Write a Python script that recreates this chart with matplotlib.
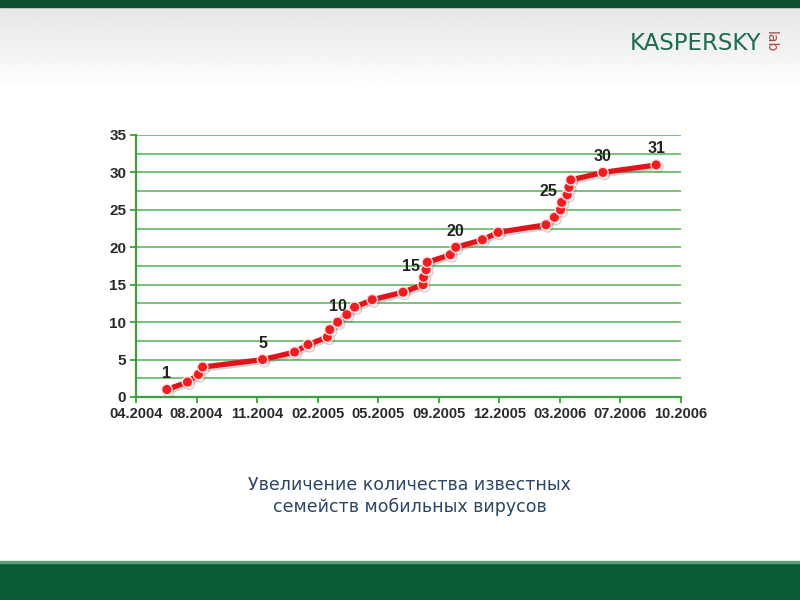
import numpy as np
import matplotlib
matplotlib.use('Agg')
import matplotlib.pyplot as plt
import matplotlib.patheffects as pe
from matplotlib.patches import Rectangle

# x positions are in "tick units" (the x-axis ticks are evenly spaced labels)
tick_labels = ['04.2004', '08.2004', '11.2004', '02.2005', '05.2005',
               '09.2005', '12.2005', '03.2006', '07.2006', '10.2006']
x_pos = [0.51, 0.85, 1.03, 1.10, 2.09, 2.62, 2.84, 3.16, 3.20, 3.33,
         3.48, 3.61, 3.90, 4.41, 4.74, 4.75, 4.79, 4.81, 5.19, 5.28,
         5.72, 5.98, 6.77, 6.91, 7.01, 7.03, 7.12, 7.15, 7.18, 7.71, 8.59]
families = list(range(1, 32))
labelled = [1, 5, 10, 15, 20, 25, 30, 31]
caption = 'Увеличение количества известных\nсемейств мобильных вирусов'

W, H = 800, 600
fig = plt.figure(figsize=(8, 6), dpi=100)
fig.patch.set_facecolor('white')

# header: dark green strip + light gray gradient
bg = fig.add_axes([0, 0, 1, 1], zorder=-5)
bg.axis('off')
grad = np.linspace(0.90, 1.0, 100).reshape(-1, 1)
bg.imshow(grad, cmap='gray', vmin=0, vmax=1, extent=[0, W, 90, 7], aspect='auto')
bg.add_patch(Rectangle((0, 0), W, 7, color='#0e4f31'))
bg.add_patch(Rectangle((0, 562), W, 38, color='#0a5c37'))
bg.add_patch(Rectangle((0, 561), W, 2, color='#5f9c7e'))
bg.set_xlim(0, W)
bg.set_ylim(H, 0)

# logo
fig.text(0.869, 0.927, 'KASPERSKY', color='#1d6b57', fontsize=16.5,
         ha='center', va='center', family='DejaVu Sans', fontweight='medium')
fig.text(0.963, 0.93, 'lab', color='#a84a3e', fontsize=10, rotation=-90,
         ha='center', va='center', family='DejaVu Sans')

ax = fig.add_axes([136 / W, 1 - 397 / H, 545 / W, 262 / H])
ax.set_xlim(0, len(tick_labels) - 1)
ax.set_ylim(0, 35)

for y in np.arange(2.5, 35.1, 2.5):
    ax.axhline(y, color='#55b055', lw=1.1, zorder=1)

line, = ax.plot(x_pos, families, color='#e3131b', lw=3.8, marker='o', ms=7.5,
                mfc='#f01c20', mec='#ffe0e0', mew=1.0, zorder=3)
line.set_path_effects([pe.SimpleLineShadow(offset=(1.2, -1.5), shadow_color='#666666', alpha=0.3),
                       pe.Normal()])

for v in labelled:
    i = families.index(v)
    dx = -9 if v in (15, 25) else 0
    dy = 13 if v in (15, 25) else 11.5
    ax.annotate(str(v), (x_pos[i], families[i]), xytext=(dx, dy),
                textcoords='offset points', ha='center', va='center',
                fontsize=11.5, fontweight='bold', color='#222222',
                family='Liberation Sans')

ax.set_xticks(range(len(tick_labels)))
ax.set_xticklabels(tick_labels)
ax.set_yticks(range(0, 36, 5))
for s in ['top', 'right']:
    ax.spines[s].set_visible(False)
for s in ['left', 'bottom']:
    ax.spines[s].set_color('#3d9e3d')
    ax.spines[s].set_linewidth(1.6)
ax.tick_params(colors='#3d9e3d', length=4, width=1.3, labelcolor='#2a2a2a', pad=3)
for lab in ax.get_xticklabels():
    lab.set_fontweight('bold')
    lab.set_family('Liberation Sans')
    lab.set_fontsize(10.5)
for lab in ax.get_yticklabels():
    lab.set_fontweight('bold')
    lab.set_family('Liberation Sans')
    lab.set_fontsize(11)
ax.set_facecolor('none')

fig.text(0.512, 0.173, caption, ha='center', va='center', fontsize=12.5,
         color='#2c4566', family='DejaVu Sans', linespacing=1.25)

fig.savefig('out.png', dpi=100)
